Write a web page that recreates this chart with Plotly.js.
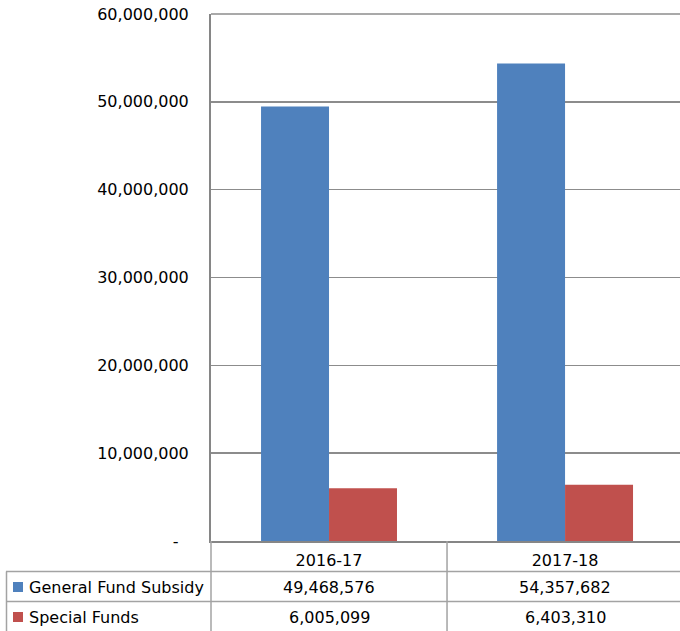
<!DOCTYPE html>
<html>
<head>
<meta charset="utf-8">
<script src="https://cdn.plot.ly/plotly-3.0.1.min.js"></script>
<style>
  html, body { margin: 0; padding: 0; background: #fff; }
  #chart { width: 680px; height: 631px; }
</style>
</head>
<body>
<div id="chart"></div>
<script>
// ---- Data ----
const categories = ['2016-17', '2017-18'];
const seriesNames = ['General Fund Subsidy', 'Special Funds'];
const generalFund = [49468576, 54357682];
const specialFunds = [6005099, 6403310];
const seriesColors = ['#4f81bd', '#c0504d'];
const yTickVals = [0, 10000000, 20000000, 30000000, 40000000, 50000000, 60000000];
const yTickText = ['-\u00a0\u00a0', '10,000,000', '20,000,000', '30,000,000', '40,000,000', '50,000,000', '60,000,000'];

// ---- Geometry helpers (pixel -> paper) ----
const W = 680, H = 631, L = 211, R = 0, T = 14, B = 90;
const plotW = W - L - R, plotH = H - T - B;
const px = x => (x - L) / plotW;
const py = y => (H - B - y) / plotH;

const FONT = 'DejaVu Sans, Verdana, sans-serif';
const fmt = v => v.toLocaleString('en-US');

const allSeries = [generalFund, specialFunds];

const traces = allSeries.map((vals, i) => ({
  type: 'bar',
  name: seriesNames[i],
  x: categories,
  y: vals,
  marker: { color: seriesColors[i] },
  hoverinfo: 'x+y+name'
}));

const tableLine = { color: '#a3a3a3', width: 1.5 };
const shapes = [
  // top gridline (range edge)
  { type: 'line', xref: 'paper', yref: 'paper', x0: 0, x1: 1, y0: 1, y1: 1, line: { color: '#8c8c8c', width: 1.5 } },
  // horizontal table lines
  { type: 'line', xref: 'paper', yref: 'paper', x0: px(6), x1: px(690), y0: py(571.5), y1: py(571.5), line: tableLine },
  { type: 'line', xref: 'paper', yref: 'paper', x0: px(6), x1: px(690), y0: py(601.5), y1: py(601.5), line: tableLine },
  // vertical table lines
  { type: 'line', xref: 'paper', yref: 'paper', x0: px(6.5), x1: px(6.5), y0: py(571.5), y1: py(640), line: tableLine },
  { type: 'line', xref: 'paper', yref: 'paper', x0: px(211), x1: px(211), y0: py(541), y1: py(640), line: tableLine },
  { type: 'line', xref: 'x', yref: 'paper', x0: 0.5, x1: 0.5, y0: py(541), y1: py(640), line: tableLine }
];

const annotations = [];
const rowY = [587, 617];
seriesNames.forEach((name, i) => {
  // legend key square
  shapes.push({
    type: 'rect', xref: 'paper', yref: 'paper',
    x0: px(13), x1: px(23), y0: py(rowY[i] - 5), y1: py(rowY[i] + 5),
    fillcolor: seriesColors[i], line: { width: 0 }
  });
  annotations.push({
    xref: 'paper', yref: 'paper', x: px(27), y: py(rowY[i]),
    xanchor: 'left', yanchor: 'middle', showarrow: false,
    text: name, font: { family: FONT, size: 16, color: '#000' }
  });
  allSeries[i].forEach((v, j) => {
    annotations.push({
      xref: 'x', yref: 'paper', x: categories[j], y: py(rowY[i]),
      xanchor: 'center', yanchor: 'middle', showarrow: false,
      text: fmt(v), font: { family: FONT, size: 16, color: '#000' }
    });
  });
});

const layout = {
  width: W, height: H,
  margin: { l: L, r: R, t: T, b: B, pad: 0 },
  paper_bgcolor: '#fff', plot_bgcolor: '#fff',
  showlegend: false,
  barmode: 'group',
  bargap: 0.424,
  bargroupgap: 0,
  font: { family: FONT, size: 16, color: '#000' },
  xaxis: {
    type: 'category',
    range: [-0.5, 1.487],
    showline: true, linecolor: '#868686', linewidth: 2,
    showgrid: false, zeroline: false,
    ticks: '',
    ticklabelstandoff: 4,
    tickfont: { family: FONT, size: 16, color: '#000' },
    fixedrange: true
  },
  yaxis: {
    range: [0, 60000000],
    tickvals: yTickVals,
    ticktext: yTickText,
    showline: true, linecolor: '#868686', linewidth: 2,
    showgrid: true, gridcolor: '#8c8c8c', gridwidth: 1.5,
    zeroline: false,
    ticks: '',
    ticklabelstandoff: 17,
    tickfont: { family: FONT, size: 16, color: '#000' },
    fixedrange: true
  },
  shapes: shapes,
  annotations: annotations
};

Plotly.newPlot('chart', traces, layout, { displayModeBar: false, staticPlot: true });
</script>
</body>
</html>
